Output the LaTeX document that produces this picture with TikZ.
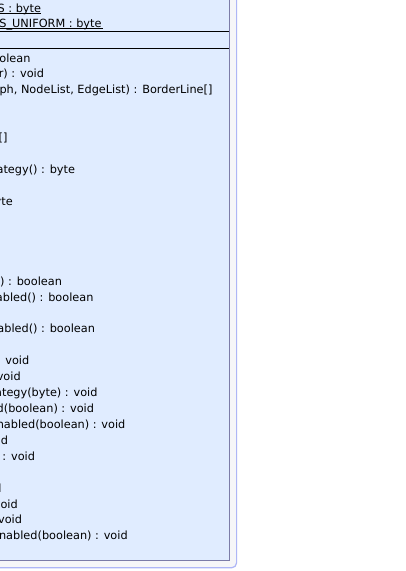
\documentclass[tikz,border=0pt]{standalone}
\usepackage{fontspec}
\setmainfont{DejaVu Sans}
\definecolor{boxfill}{HTML}{E0ECFF}
\definecolor{boxline}{HTML}{7C7CA8}
\definecolor{panelfill}{HTML}{F6F6F8}
\definecolor{panelline}{HTML}{AEB6F6}
\tikzset{
  member/.style={anchor=base east, inner sep=0pt, outer sep=0pt, text=black,
    font=\fontsize{11.3}{13}\selectfont},
  sep/.style={draw=black, line width=1pt},
  uline/.style={draw=black, line width=0.9pt}
}
\begin{document}
\begin{tikzpicture}[x=1pt,y=-1pt]
\useasboundingbox (0,0) rectangle (405,571);
\fill[white] (0,0) rectangle (405,571);
% outer panel
\path[fill=panelfill, draw=panelline, line width=1.2pt, rounded corners=5pt]
  (-20,-20) rectangle (236.6,567.8);
% class box
\path[fill=boxfill, draw=boxline, line width=1.4pt] (-20,-20) rectangle (229.5,560.5);
% compartment separators
\coordinate (s1l) at (-20,31); \coordinate (s1r) at (229,31);
\coordinate (s2l) at (-20,48); \coordinate (s2r) at (229,48);
\draw[sep] (s1l) -- (s1r);
\draw[sep] (s2l) -- (s2r);
% static attributes
\node[member] (a1) at (41,12) {S : byte};
\node[member] (a2) at (101.5,27) {S\_UNIFORM : byte};
\draw[uline] ([yshift=-1.4pt]a1.base west) -- ([yshift=-1.4pt]a1.base east);
\draw[uline] ([yshift=-1.2pt]a2.base west) -- ([yshift=-1.2pt,xshift=1pt]a2.base east);
% operations
\node[member] (m0)  at (30.5,62.0)  {olean};
\node[member] (m1)  at (44,77.9)    {r) : void};
\node[member] (m2)  at (212.5,93.9) {ph, NodeList, EdgeList) : BorderLine[]};
\node[member] (m5)  at (7.5,141.7)  {[]};
\node[member] (m7)  at (75,173.5)   {ategy() : byte};
\node[member] (m9)  at (12.8,205.4) {byte};
\node[member] (m14) at (62,285.0)   {) : boolean};
\node[member] (m15) at (93.5,301.0) {abled() : boolean};
\node[member] (m17) at (95,332.8)   {abled() : boolean};
\node[member] (m19) at (29.3,364.7) {void};
\node[member] (m20) at (20.7,380.6) {void};
\node[member] (m21) at (97.5,396.6) {ategy(byte) : void};
\node[member] (m22) at (94,412.5)   {d(boolean) : void};
\node[member] (m23) at (125.4,428.4){nabled(boolean) : void};
\node[member] (m24) at (8,444.3)    {d};
\node[member] (m25) at (35,460.3)   {: void};
\node[member] (m27) at (1.5,492.1)  {l};
\node[member] (m28) at (17.8,508.0) {void};
\node[member] (m29) at (22,523.9)   {void};
\node[member] (m30) at (127.7,539.9){nabled(boolean) : void};
\end{tikzpicture}
\end{document}
